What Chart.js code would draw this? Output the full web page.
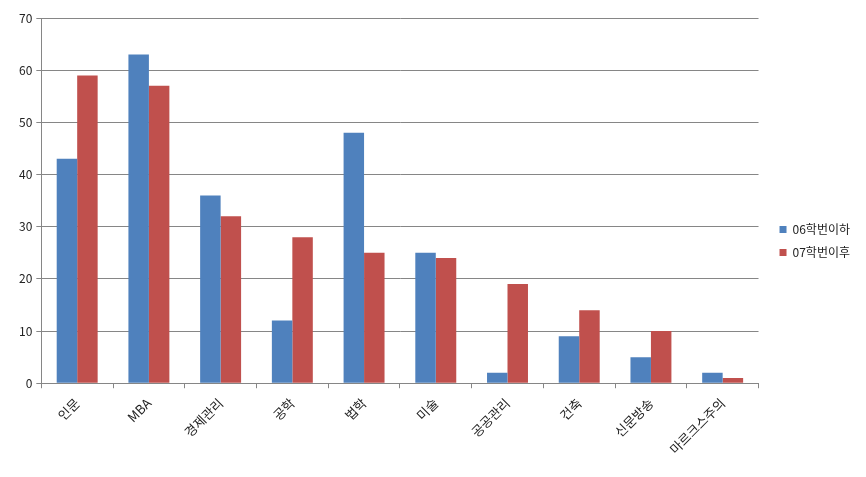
<!DOCTYPE html>
<html>
<head>
<meta charset="utf-8">
<script src="https://cdn.jsdelivr.net/npm/chart.js@4/dist/chart.umd.min.js"></script>
<style>
  html, body { margin: 0; padding: 0; background: #fff; }
  #wrap { width: 866px; height: 477px; }
</style>
</head>
<body>
<div id="wrap"><canvas id="barChart"></canvas></div>
<script>
// data
const categories = ['인문', 'MBA', '경제관리', '공학', '법학', '미술', '공공관리', '건축', '신문방송', '마르크스주의'];
const before06 = [43, 63, 36, 12, 48, 25, 2, 9, 5, 2];
const after07 = [59, 57, 32, 28, 25, 24, 19, 14, 10, 1];

const axisGray = '#868686';
const fontFamily = "'Noto Sans CJK KR', 'Noto Sans', sans-serif";

const config = {
    type: 'bar',
    data: {
        labels: categories,
        datasets: [
            { label: '06학번이하', data: before06, backgroundColor: '#4F81BD' },
            { label: '07학번이후', data: after07, backgroundColor: '#C0504D' }
        ]
    },
    options: {
        responsive: true,
        maintainAspectRatio: false,
        animation: false,
        categoryPercentage: 0.571,
        barPercentage: 1.0,
        layout: { padding: { top: 18, right: 6, left: 15, bottom: 13 } },
        plugins: {
            legend: {
                position: 'right',
                labels: {
                    boxWidth: 7,
                    boxHeight: 7,
                    padding: 11,
                    color: '#222',
                    font: { family: fontFamily, size: 12 }
                }
            },
            tooltip: { enabled: false }
        },
        scales: {
            x: {
                grid: {
                    offset: true,
                    drawOnChartArea: false,
                    color: axisGray,
                    tickLength: 5
                },
                border: { color: axisGray },
                ticks: {
                    color: '#222',
                    maxRotation: 45,
                    minRotation: 45,
                    padding: 7,
                    font: { family: fontFamily, size: 13 }
                }
            },
            y: {
                min: 0,
                max: 70,
                ticks: {
                    stepSize: 10,
                    color: '#222',
                    padding: 4,
                    font: { family: fontFamily, size: 12 }
                },
                grid: { color: axisGray, tickLength: 5 },
                border: { color: axisGray }
            },
            // spacer between plot and legend
            gap: {
                position: 'right',
                display: true,
                grid: { display: false },
                border: { display: false },
                ticks: { display: false },
                afterFit: (scale) => { scale.width = 10; }
            }
        }
    }
};

const barChart = new Chart(document.getElementById('barChart'), config);
</script>
</body>
</html>
